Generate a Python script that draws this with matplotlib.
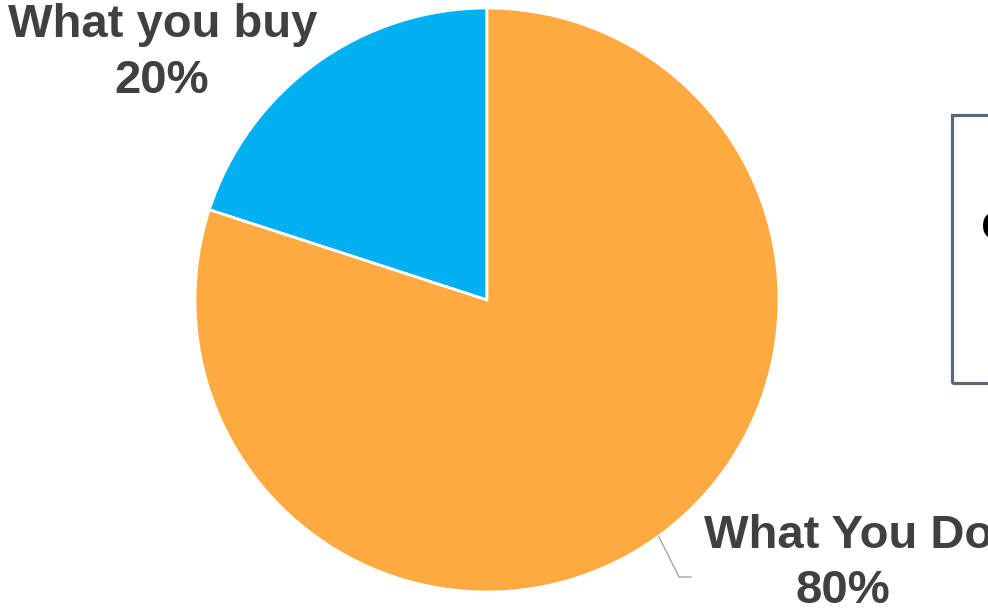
import matplotlib.pyplot as plt
from matplotlib.patches import Rectangle

labels = ['What you buy', 'What You Do']
shares = [20, 80]
colors = ['#00B0F0', '#FFAA40']

plt.rcParams['font.family'] = ['Liberation Sans', 'DejaVu Sans']

fig = plt.figure(figsize=(9.88, 6.08), dpi=100)
ax = fig.add_axes([0, 0, 1, 1])

# pie in pixel-like coordinates (y up)
ax.pie(shares, colors=colors, startangle=90, counterclock=True,
       radius=292, center=(487, 308), frame=True,
       wedgeprops=dict(edgecolor='white', linewidth=2))
ax.set_xlim(0, 988)
ax.set_ylim(0, 608)
ax.set_aspect('equal')
ax.axis('off')

txt = dict(fontsize=34, fontweight='bold', color='#404040', ha='center',
           va='baseline')
ax.text(163, 608 - 37, labels[0], **txt)
ax.text(162, 608 - 93, f'{shares[0]}%', **txt)
ax.text(849, 608 - 548, labels[1], **txt)
ax.text(843, 608 - 603, f'{shares[1]}%', **txt)

# leader line for the big slice
ax.plot([659, 679, 691], [608 - 537, 608 - 577, 608 - 577],
        color='#A6A6A6', lw=1)

# box at the right edge, mostly outside the picture
ax.add_patch(Rectangle((952, 608 - 383), 200, 268, fill=False,
                       edgecolor='#5B6B75', lw=2.3, clip_on=False))
ax.text(981, 608 - 226, 'c', fontsize=36, fontweight='bold', color='black',
        ha='left', va='center')

fig.savefig('out.png', dpi=100)
